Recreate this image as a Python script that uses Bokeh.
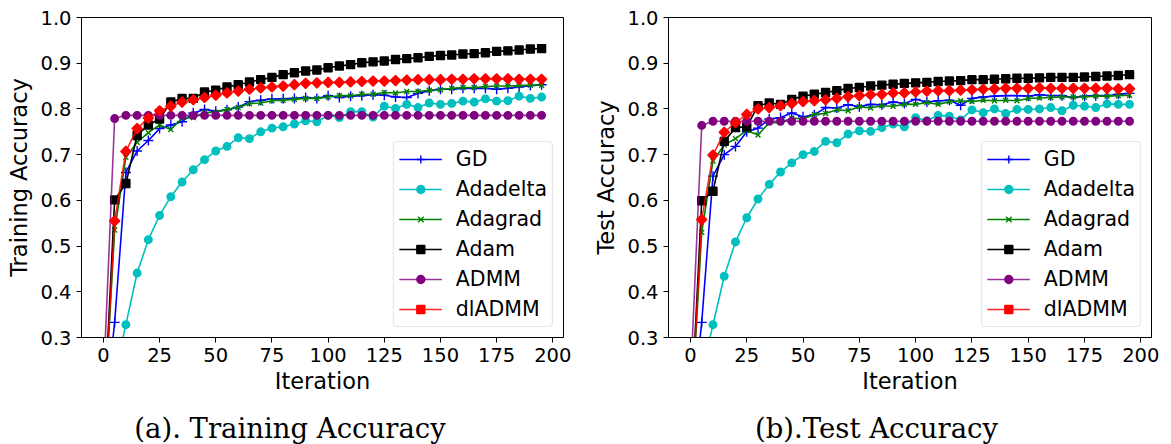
import math
from bokeh.plotting import figure
from bokeh.layouts import column, row
from bokeh.models import FixedTicker, Range1d, Label
from bokeh.embed import file_html
from bokeh.resources import INLINE

# ---------------- data ----------------
iterations = [0, 5, 10, 15, 20, 25, 30, 35, 40, 45, 50, 55, 60, 65, 70, 75, 80, 85, 90, 95,
              100, 105, 110, 115, 120, 125, 130, 135, 140, 145, 150, 155, 160, 165, 170, 175,
              180, 185, 190, 195]

series_names = ["GD", "Adadelta", "Adagrad", "Adam", "ADMM", "dlADMM"]

train_gd = [0.10, 0.333, 0.661, 0.708, 0.731, 0.757, 0.765, 0.772, 0.791, 0.799, 0.795, 0.798,
            0.804, 0.816, 0.819, 0.822, 0.822, 0.823, 0.825, 0.823, 0.829, 0.825, 0.828, 0.829,
            0.831, 0.830, 0.826, 0.825, 0.834, 0.840, 0.843, 0.843, 0.845, 0.845, 0.845, 0.843,
            0.845, 0.848, 0.851, 0.853]
train_adadelta = [0.08, 0.22, 0.328, 0.441, 0.514, 0.567, 0.608, 0.640, 0.667, 0.689, 0.708, 0.718,
                  0.737, 0.735, 0.750, 0.758, 0.761, 0.767, 0.774, 0.772, 0.786, 0.781, 0.794, 0.794,
                  0.782, 0.806, 0.801, 0.810, 0.803, 0.813, 0.810, 0.812, 0.817, 0.815, 0.822, 0.817,
                  0.818, 0.828, 0.823, 0.826]
train_adagrad = [0.10, 0.535, 0.694, 0.727, 0.748, 0.765, 0.755, 0.780, 0.781, 0.792, 0.793, 0.799,
                 0.803, 0.812, 0.813, 0.818, 0.819, 0.821, 0.823, 0.823, 0.826, 0.829, 0.829, 0.832,
                 0.832, 0.836, 0.835, 0.838, 0.838, 0.841, 0.842, 0.845, 0.847, 0.847, 0.849, 0.850,
                 0.850, 0.851, 0.852, 0.852]
train_adam = [0.10, 0.601, 0.637, 0.742, 0.765, 0.778, 0.815, 0.823, 0.823, 0.837, 0.841, 0.848,
              0.853, 0.859, 0.864, 0.869, 0.875, 0.879, 0.883, 0.885, 0.890, 0.894, 0.897, 0.901,
              0.903, 0.905, 0.908, 0.910, 0.912, 0.915, 0.917, 0.918, 0.920, 0.921, 0.923, 0.926,
              0.927, 0.929, 0.931, 0.932]
train_admm = [0.20, 0.779, 0.786, 0.786, 0.786, 0.786, 0.786, 0.786, 0.786, 0.786, 0.786, 0.786,
              0.786, 0.786, 0.786, 0.786, 0.786, 0.786, 0.786, 0.786, 0.786, 0.786, 0.786, 0.786,
              0.786, 0.786, 0.786, 0.786, 0.786, 0.786, 0.786, 0.786, 0.786, 0.786, 0.786, 0.786,
              0.786, 0.786, 0.786, 0.786]
train_dladmm = [0.10, 0.555, 0.707, 0.757, 0.780, 0.796, 0.806, 0.815, 0.820, 0.825, 0.830, 0.835,
                0.839, 0.843, 0.846, 0.848, 0.850, 0.853, 0.856, 0.857, 0.858, 0.858, 0.859, 0.860,
                0.861, 0.861, 0.862, 0.863, 0.864, 0.864, 0.864, 0.865, 0.865, 0.866, 0.866, 0.866,
                0.866, 0.865, 0.865, 0.865]

test_gd = [0.10, 0.333, 0.653, 0.700, 0.718, 0.750, 0.758, 0.778, 0.781, 0.791, 0.783, 0.787,
           0.803, 0.802, 0.809, 0.805, 0.810, 0.809, 0.815, 0.812, 0.821, 0.815, 0.818, 0.819,
           0.808, 0.823, 0.826, 0.828, 0.829, 0.829, 0.828, 0.831, 0.829, 0.829, 0.825, 0.828,
           0.829, 0.829, 0.832, 0.834]
test_adadelta = [0.08, 0.22, 0.328, 0.434, 0.509, 0.562, 0.603, 0.635, 0.662, 0.682, 0.700, 0.707,
                 0.729, 0.726, 0.745, 0.752, 0.751, 0.759, 0.767, 0.761, 0.781, 0.774, 0.786, 0.784,
                 0.776, 0.798, 0.792, 0.800, 0.790, 0.799, 0.799, 0.800, 0.803, 0.796, 0.808, 0.806,
                 0.803, 0.811, 0.810, 0.810]
test_adagrad = [0.10, 0.530, 0.686, 0.721, 0.735, 0.753, 0.743, 0.770, 0.770, 0.780, 0.778, 0.788,
                0.790, 0.798, 0.796, 0.805, 0.802, 0.807, 0.806, 0.810, 0.810, 0.814, 0.810, 0.816,
                0.818, 0.816, 0.819, 0.818, 0.819, 0.818, 0.823, 0.824, 0.825, 0.826, 0.826, 0.826,
                0.828, 0.828, 0.829, 0.830]
test_adam = [0.10, 0.599, 0.620, 0.729, 0.759, 0.761, 0.807, 0.813, 0.810, 0.821, 0.828, 0.832,
             0.836, 0.840, 0.845, 0.847, 0.850, 0.852, 0.854, 0.856, 0.857, 0.858, 0.860, 0.861,
             0.862, 0.864, 0.864, 0.865, 0.866, 0.867, 0.867, 0.868, 0.869, 0.869, 0.869, 0.870,
             0.871, 0.872, 0.873, 0.875]
test_admm = [0.20, 0.764, 0.773, 0.773, 0.773, 0.773, 0.773, 0.773, 0.773, 0.773, 0.773, 0.773,
             0.773, 0.773, 0.773, 0.773, 0.773, 0.773, 0.773, 0.773, 0.773, 0.773, 0.773, 0.773,
             0.773, 0.773, 0.773, 0.773, 0.773, 0.773, 0.773, 0.773, 0.773, 0.773, 0.773, 0.773,
             0.773, 0.773, 0.773, 0.773]
test_dladmm = [0.10, 0.558, 0.699, 0.749, 0.770, 0.788, 0.800, 0.803, 0.807, 0.812, 0.816, 0.818,
               0.820, 0.823, 0.827, 0.829, 0.831, 0.832, 0.835, 0.835, 0.837, 0.839, 0.840, 0.840,
               0.841, 0.842, 0.843, 0.844, 0.845, 0.845, 0.845, 0.846, 0.845, 0.845, 0.845, 0.845,
               0.845, 0.845, 0.844, 0.844]

x_ticks = [0, 25, 50, 75, 100, 125, 150, 175, 200]
y_ticks = [0.3, 0.4, 0.5, 0.6, 0.7, 0.8, 0.9, 1.0]
y_tick_labels = ["0.3", "0.4", "0.5", "0.6", "0.7", "0.8", "0.9", "1.0"]

panel_ylabels = ["Training Accuracy", "Test Accuracy"]
x_label = "Iteration"
captions = ["(a). Training Accuracy", "(b).Test Accuracy"]

# ---------------- styles ----------------
styles = {
    "GD":       dict(color="#0000ff", marker="cross",  size=10, alpha=1.0, angle=0.0),
    "Adadelta": dict(color="#00bfbf", marker="circle", size=7.5, alpha=1.0, angle=0.0),
    "Adagrad":  dict(color="#008000", marker="x",      size=7, alpha=1.0, angle=0.0),
    "Adam":     dict(color="#000000", marker="square", size=8, alpha=1.0, angle=0.0),
    "ADMM":     dict(color="#800080", marker="circle", size=7.5, alpha=0.8, angle=0.0),
    "dlADMM":   dict(color="#ff0000", marker="square", size=7.2, alpha=0.85, angle=math.pi / 4),
}

FONT = "DejaVu Sans"
TICK_SIZE = "19.5px"
LEGEND_SIZE = "20.5px"
LABEL_SIZE = "22.5px"


def make_panel(ylabel, values, width, border_left, border_right):
    p = figure(width=width, height=405, output_backend="svg", toolbar_location=None,
               x_range=Range1d(-9.75, 204.75), y_range=Range1d(0.3, 1.0),
               min_border_left=border_left, min_border_right=border_right,
               min_border_top=17, min_border_bottom=68)
    for name, ys in zip(series_names, values):
        st = styles[name]
        p.line(iterations, ys, line_color=st["color"], line_width=1.6,
               line_alpha=st["alpha"], legend_label=name)
        p.scatter(iterations, ys, marker=st["marker"], size=st["size"], angle=st["angle"],
                  line_color=st["color"], fill_color=st["color"], line_width=1.4,
                  legend_label=name)
    p.xgrid.visible = False
    p.ygrid.visible = False
    p.outline_line_color = "black"
    p.outline_line_width = 1
    p.outline_line_alpha = 1.0
    p.background_fill_color = "white"
    p.border_fill_color = "white"

    p.xaxis.ticker = FixedTicker(ticks=x_ticks)
    p.yaxis.ticker = FixedTicker(ticks=y_ticks)
    p.yaxis.major_label_overrides = {t: s for t, s in zip(y_ticks, y_tick_labels)}
    for ax in (p.xaxis[0], p.yaxis[0]):
        ax.axis_line_color = "black"
        ax.major_tick_line_color = "black"
        ax.major_tick_out = 5
        ax.major_tick_in = 0
        ax.minor_tick_line_color = None
        ax.major_label_text_font = FONT
        ax.major_label_text_font_size = TICK_SIZE
        ax.major_label_text_color = "black"
        ax.axis_label_text_font = FONT
        ax.axis_label_text_font_size = LABEL_SIZE
        ax.axis_label_text_font_style = "normal"
        ax.axis_label_text_color = "black"
        ax.major_label_standoff = 5
    p.xaxis.axis_label = x_label
    p.yaxis.axis_label = ylabel
    p.xaxis.axis_label_standoff = 3
    p.yaxis.axis_label_standoff = 5

    lg = p.legend[0]
    lg.location = "bottom_right"
    lg.margin = 10
    lg.padding = 5
    lg.spacing = 6
    lg.glyph_width = 43
    lg.glyph_height = 20
    lg.label_height = 20
    lg.label_standoff = 14
    lg.label_text_font = FONT
    lg.label_text_font_size = LEGEND_SIZE
    lg.label_text_color = "black"
    lg.border_line_color = "#cccccc"
    lg.border_line_width = 1
    lg.background_fill_color = "white"
    lg.background_fill_alpha = 0.8
    if "border_radius" in type(lg).properties():
        lg.border_radius = 4
    return p


p1 = make_panel(panel_ylabels[0],
                [train_gd, train_adadelta, train_adagrad, train_adam, train_admm, train_dladmm],
                585, 81, 22)
p2 = make_panel(panel_ylabels[1],
                [test_gd, test_adadelta, test_adagrad, test_adam, test_admm, test_dladmm],
                586, 83, 20)

cap = figure(width=1171, height=39, output_backend="svg", toolbar_location=None,
             x_range=Range1d(0, 1171), y_range=Range1d(0, 39),
             min_border=0, x_axis_type=None, y_axis_type=None)
cap.outline_line_color = None
cap.xgrid.visible = False
cap.ygrid.visible = False
for txt, cx in zip(captions, [289.5, 876]):
    cap.add_layout(Label(x=cx, y=17, text=txt, text_align="center", text_baseline="middle",
                         text_font="DejaVu Serif", text_font_size="27.5px", text_color="black"))

layout = column(row(p1, p2), cap)
open("out.html", "w").write(file_html(layout, INLINE))
